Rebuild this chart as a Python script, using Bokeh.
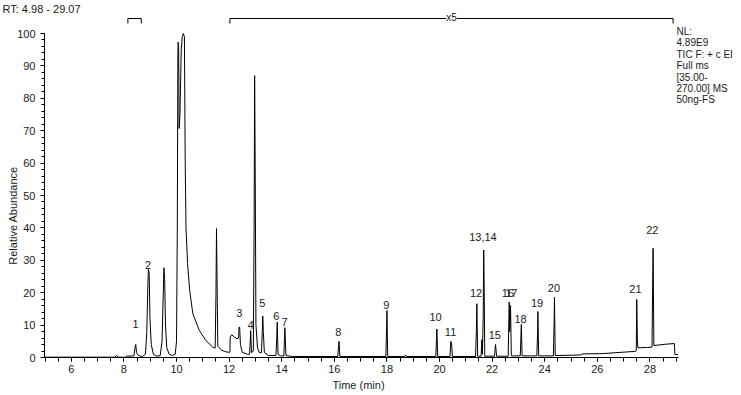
import math
from bokeh.plotting import figure
from bokeh.models import Range1d, FixedTicker, Label
from bokeh.core.properties import value
from bokeh.embed import file_html
from bokeh.resources import INLINE

# ---- data (retention time in min, relative abundance) ----
rt = [4.98, 7.65, 7.72, 7.78, 8.05, 8.10, 8.38,
      8.42, 8.45, 8.48, 8.55, 8.70,
      8.82, 8.87, 8.91, 8.93, 8.96, 8.99, 9.04, 9.12, 9.25,
      9.38, 9.45, 9.49, 9.52, 9.55, 9.58, 9.63, 9.72, 9.85,
      9.95, 10.00, 10.03, 10.05, 10.06, 10.08, 10.10, 10.13, 10.18, 10.22, 10.26, 10.30,
      10.33, 10.36, 10.42, 10.50, 10.62, 10.87, 11.12, 11.38, 11.47,
      11.50, 11.52, 11.54, 11.57, 11.70, 11.85, 12.00,
      12.03, 12.04, 12.10, 12.20, 12.30, 12.36, 12.38, 12.40, 12.43, 12.50, 12.70,
      12.78, 12.82, 12.85,
      12.92, 12.95, 12.97, 12.99, 13.02, 13.08, 13.15,
      13.23, 13.26, 13.28, 13.30, 13.34, 13.50,
      13.78, 13.81, 13.83, 13.86, 13.95,
      14.08, 14.12, 14.16, 14.40,
      16.13, 16.16, 16.18, 16.21,
      17.96, 17.99, 18.00, 18.03,
      18.68, 18.71, 18.74,
      19.86, 19.89, 19.90, 19.93,
      20.40, 20.43, 20.46, 20.49,
      21.37, 21.40, 21.42, 21.45,
      21.58, 21.61, 21.63,
      21.66, 21.68, 21.70, 21.72,
      22.09, 22.13, 22.17,
      22.61, 22.65, 22.67, 22.70, 22.73,
      23.07, 23.11, 23.14,
      23.70, 23.73, 23.74, 23.77,
      24.33, 24.36, 24.37, 24.40,
      25.00, 25.40, 25.42, 26.20, 26.90, 27.45,
      27.48, 27.50, 27.52, 27.54, 27.90,
      28.08, 28.10, 28.12, 28.15, 28.60, 28.93, 28.95, 29.07]
abundance = [0.1, 0.1, 0.7, 0.1, 0.1, 0.4, 0.5,
             3.0, 4.0, 1.5, 0.6, 0.3,
             1.0, 8.0, 22.0, 27.4, 26.0, 12.0, 4.0, 1.0, 0.4,
             0.6, 5.0, 18.0, 27.7, 24.0, 10.0, 3.0, 1.0, 0.6,
             1.0, 5.0, 40.0, 92.0, 97.3, 96.0, 70.7, 75.0, 95.0, 99.0, 100.0, 99.0,
             60.0, 40.0, 29.0, 20.7, 13.5, 8.3, 5.2, 3.2, 2.9,
             20.0, 39.8, 25.0, 3.5, 2.3, 1.8, 1.6,
             1.6, 6.3, 7.0, 6.3, 5.8, 6.0, 9.4, 9.4, 4.0, 1.6, 1.0,
             1.0, 8.3, 1.5,
             2.0, 40.0, 87.0, 60.0, 10.0, 3.0, 1.5,
             1.5, 8.0, 12.8, 8.0, 1.5, 0.6,
             0.6, 6.0, 10.9, 1.0, 0.5,
             0.5, 9.2, 0.6, 0.3,
             0.3, 3.5, 5.0, 0.3,
             0.3, 10.0, 14.5, 0.3,
             0.3, 0.8, 0.3,
             0.3, 7.0, 8.8, 0.3,
             0.3, 5.0, 4.2, 0.3,
             0.3, 8.0, 16.6, 0.4,
             0.4, 5.5, 1.0,
             12.0, 33.2, 20.0, 0.4,
             0.4, 4.0, 0.4,
             0.4, 17.1, 8.0, 16.0, 0.5,
             0.5, 10.2, 0.5,
             0.5, 8.0, 14.2, 0.5,
             0.5, 12.0, 18.6, 0.6,
             0.7, 0.8, 1.1, 1.2, 1.6, 1.9,
             2.0, 17.9, 6.3, 3.0, 3.1,
             3.2, 20.0, 33.7, 3.7, 4.1, 4.3, 0.9, 0.9]

peak_names = ["1", "2", "3", "4", "5", "6", "7", "8", "9", "10", "11", "12",
              "13,14", "15", "16", "17", "18", "19", "20", "21", "22"]
peak_label_rt = [8.44, 8.92, 12.39, 12.82, 13.26, 13.79, 14.11, 16.15, 17.98, 19.85, 20.42,
                 21.39, 21.65, 22.10, 22.60, 22.73, 23.08, 23.71, 24.35, 27.45, 28.09]
peak_label_y = [10.4, 28.7, 13.8, 9.9, 16.9, 12.7, 11.1, 8.0, 16.3, 12.4, 7.8,
                19.8, 37.3, 6.8, 19.8, 19.8, 11.9, 16.8, 21.4, 21.2, 39.4]

zoom_start = [8.15, 12.03]
zoom_end = [8.66, 28.88]
zoom_text = ["", "x5"]

info_lines = ["NL:", "4.89E9", "TIC F: + c EI", "Full ms", "[35.00-", "270.00] MS", "50ng-FS"]
title_text = "RT: 4.98 - 29.07"
x_ticks = [6, 8, 10, 12, 14, 16, 18, 20, 22, 24, 26, 28]
y_ticks = [0, 10, 20, 30, 40, 50, 60, 70, 80, 90, 100]
RT_MIN, RT_MAX = 4.98, 29.07

# ---- layout (the frame fills the canvas; axes are pinned inside it) ----
W, H = 741, 395
AX_X, AX_Y = 44, 357          # pixel position of the axes' origin
PX_PER_MIN = 26.3
PX_PER_UNIT = 3.24

def fx(px):  # pixel -> data x
    return RT_MIN + (px - AX_X) / PX_PER_MIN

def fy(py):  # pixel (from top) -> data y
    return (AX_Y - py) / PX_PER_UNIT

FONT = "Liberation Sans"
TXT = "#1a1a1a"

p = figure(width=W, height=H, x_range=Range1d(fx(0), fx(W)), y_range=Range1d(fy(H), fy(0)),
           output_backend="svg", toolbar_location=None,
           min_border_left=0, min_border_right=0, min_border_top=0, min_border_bottom=0)
p.outline_line_color = None
p.grid.visible = False
p.background_fill_color = "white"
p.border_fill_color = "white"

p.line(rt, abundance, line_color="black", line_width=1)

p.text(x=peak_label_rt, y=peak_label_y, text=peak_names, text_font=value(FONT),
       text_font_size="11px", text_color=TXT, text_align="center", text_baseline="middle")

# magnification brackets
leg_lo, leg_hi = fy(23), fy(18)
for s, e, t in zip(zoom_start, zoom_end, zoom_text):
    p.line([s, s, e, e], [leg_lo, leg_hi, leg_hi, leg_lo], line_color="black", line_width=1)
    if t:
        p.add_layout(Label(x=(s + e) / 2, y=fy(16.5), text=t, text_font=FONT, text_font_size="10px",
                           text_color=TXT, text_align="center", text_baseline="middle",
                           background_fill_color="white"))

# info block on the right
for i, line in enumerate(info_lines):
    p.add_layout(Label(x=fx(676), y=fy(31 + 11.4 * i), text=line, text_font=FONT,
                       text_font_size="10px", text_color=TXT, text_align="left",
                       text_baseline="middle"))

# title
p.add_layout(Label(x=fx(2), y=fy(8), text=title_text, text_font=FONT, text_font_size="11px",
                   text_color=TXT, text_align="left", text_baseline="middle"))

# axis titles
p.add_layout(Label(x=fx(12), y=fy(215), text="Relative Abundance", angle=math.pi / 2,
                   text_font=FONT, text_font_size="11px", text_color=TXT,
                   text_align="center", text_baseline="middle"))
p.add_layout(Label(x=fx(358), y=fy(384), text="Time (min)", text_font=FONT, text_font_size="11px",
                   text_color=TXT, text_align="center", text_baseline="middle"))

xa = p.xaxis[0]
xa.fixed_location = 0
xa.bounds = (RT_MIN, RT_MAX)
xa.ticker = FixedTicker(ticks=x_ticks, minor_ticks=[5 + 0.5 * k for k in range(49)])
ya = p.yaxis[0]
ya.fixed_location = RT_MIN
ya.bounds = (0, 100)
ya.ticker = FixedTicker(ticks=y_ticks, minor_ticks=list(range(0, 101, 2)))
for ax in (xa, ya):
    ax.axis_line_color = "black"
    ax.major_tick_line_color = "black"
    ax.minor_tick_line_color = "black"
    ax.major_tick_in = 0
    ax.minor_tick_in = 0
    ax.major_tick_out = 4
    ax.major_label_text_font = FONT
    ax.major_label_text_font_size = "11px"
    ax.major_label_text_color = TXT
xa.minor_tick_out = 4
ya.minor_tick_out = 3
xa.major_label_standoff = 3
ya.major_label_standoff = 5

open("out.html", "w").write(file_html(p, INLINE))
